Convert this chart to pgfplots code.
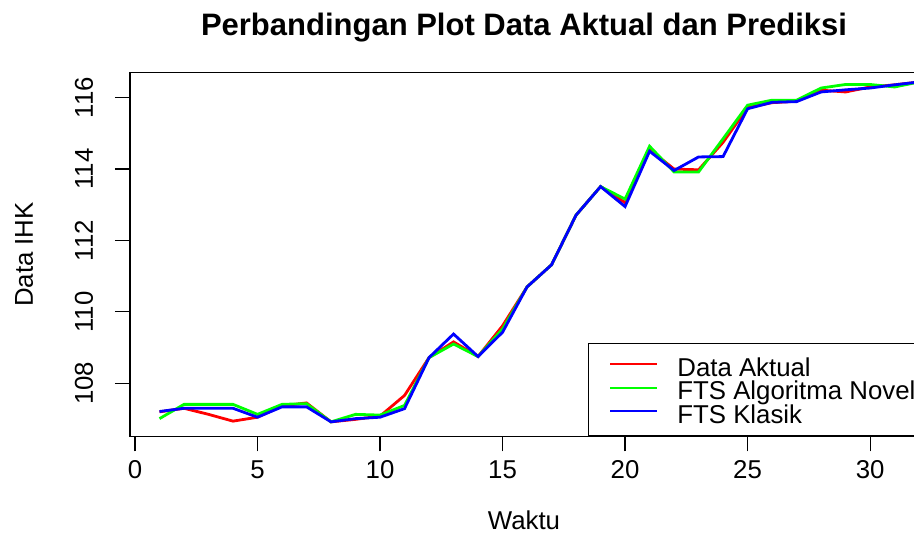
\documentclass[border=0pt]{standalone}
\usepackage{pgfplots}
\pgfplotsset{compat=1.18}
\usepackage{fontspec}
\setmainfont{Liberation Sans}
\definecolor{rred}{RGB}{255,0,0}
\definecolor{rgreen}{RGB}{0,255,0}
\definecolor{rblue}{RGB}{0,0,255}

\pgfplotstableread{
x  akt     nov     kla
1  107.20  107.01  107.21
2  107.30  107.41  107.30
3  107.13  107.41  107.30
4  106.94  107.41  107.30
5  107.05  107.13  107.05
6  107.37  107.41  107.34
7  107.45  107.43  107.34
8  106.92  106.92  106.92
9  106.99  107.13  107.01
10 107.08  107.11  107.05
11 107.66  107.38  107.29
12 108.72  108.72  108.72
13 109.16  109.10  109.38
14 108.75  108.75  108.75
15 109.61  109.52  109.43
16 110.70  110.70  110.70
17 111.32  111.32  111.32
18 112.71  112.71  112.71
19 113.51  113.51  113.51
20 113.06  113.16  112.95
21 114.55  114.64  114.50
22 114.00  113.92  113.96
23 113.98  113.92  114.34
24 114.75  114.85  114.35
25 115.72  115.79  115.69
26 115.86  115.93  115.87
27 115.90  115.93  115.89
28 116.21  116.27  116.16
29 116.16  116.37  116.22
30 116.30  116.37  116.27
31 116.36  116.30  116.36
32 116.44  116.44  116.44
}\datatab

\begin{document}
\begin{tikzpicture}
\useasboundingbox (0,0) rectangle (457pt,266.5pt);
\begin{axis}[
  at={(65pt,48.25pt)}, anchor=south west,
  scale only axis, width=397pt, height=181.9pt,
  xmin=-0.204, xmax=32.2, ymin=106.51, ymax=116.70,
  xtick={0,5,...,30}, ytick={108,110,...,116},
  tick align=outside, major tick length=7.5pt,
  xtick pos=bottom, ytick pos=left,
  axis line style={line width=0.6pt},
  tick style={line width=0.6pt, black},
  ticklabel style={font=\fontsize{12.9}{15}\selectfont},
  /pgf/number format/assume math mode=true,
  xticklabel style={yshift=-13.75pt, anchor=base, inner sep=0pt},
  yticklabel style={xshift=-11pt, rotate=90, anchor=base, inner sep=0pt},
  legend style={draw=black, line width=0.6pt, at={(0.5768,0)}, anchor=south west,
    inner xsep=10.5pt, inner ysep=5.5pt, row sep=0pt, column sep=9.5pt,
    font=\fontsize{12.9}{15}\selectfont,
    nodes={inner sep=0pt, text height=11pt, text depth=0.75pt, anchor=west}},
  legend cell align=left,
]
\addplot[color=rred, line width=1.4pt,
  legend image code/.code={\draw[draw=rred, line width=0.9pt] (0pt,1pt) -- (23.5pt,1pt);}]
  table[x=x, y=akt] {\datatab};
\addlegendentry{Data Aktual}
\addplot[color=rgreen, line width=1.4pt,
  legend image code/.code={\draw[draw=rgreen, line width=0.9pt] (0pt,1pt) -- (23.5pt,1pt);}]
  table[x=x, y=nov] {\datatab};
\addlegendentry{FTS Algoritma Novel}
\addplot[color=rblue, line width=1.4pt,
  legend image code/.code={\draw[draw=rblue, line width=0.9pt] (0pt,1pt) -- (23.5pt,1pt);}]
  table[x=x, y=kla] {\datatab};
\addlegendentry{FTS Klasik}
\end{axis}
\node[anchor=base, font=\fontsize{15.5}{18}\selectfont\bfseries] at (262pt,248.5pt) {Perbandingan Plot Data Aktual dan Prediksi};
\node[anchor=base, font=\fontsize{12.9}{15}\selectfont] at (262pt,1.5pt) {Waktu};
\node[anchor=base, rotate=90, font=\fontsize{12.9}{15}\selectfont] at (16.5pt,139.2pt) {Data IHK};
\end{tikzpicture}
\end{document}
